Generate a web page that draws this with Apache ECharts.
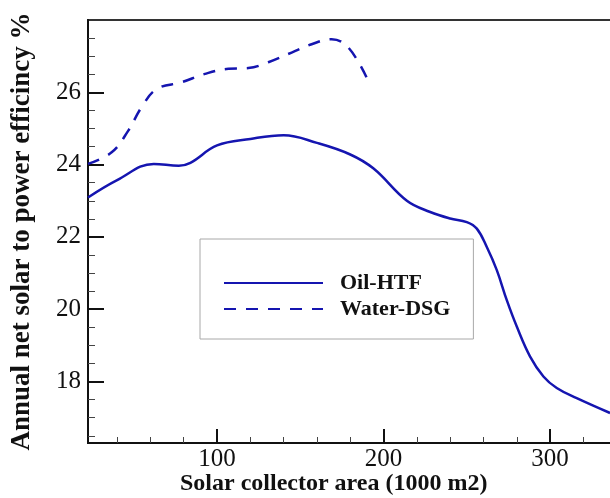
<!DOCTYPE html>
<html>
<head>
<meta charset="utf-8">
<script src="https://cdn.jsdelivr.net/npm/echarts@6/dist/echarts.min.js"></script>
<style>
  html, body { margin: 0; padding: 0; background: #fff; }
  #chart { width: 610px; height: 498px; }
</style>
</head>
<body>
<div id="chart"></div>
<script>
// collector area (1000 m2) and efficiency (%)
const oilArea = [22.5, 40, 62, 77, 84, 100, 120, 140, 160, 180, 194, 214, 228, 240, 250, 256, 262, 268, 274, 280, 288, 296, 304, 316, 336];
const oilEff = [23.09, 23.57, 24.02, 23.97, 24.05, 24.53, 24.71, 24.81, 24.6, 24.28, 23.89, 23.0, 22.69, 22.51, 22.41, 22.23, 21.72, 21.08, 20.25, 19.52, 18.69, 18.14, 17.82, 17.54, 17.13];
const dsgArea = [22.5, 36.7, 46.7, 54.7, 63.8, 78.8, 92.8, 106.8, 118.8, 130.8, 144.8, 156.8, 168.8, 178.8, 189.8];
const dsgEff = [24.02, 24.34, 24.94, 25.59, 26.09, 26.28, 26.51, 26.65, 26.67, 26.83, 27.1, 27.33, 27.47, 27.24, 26.41];

const xMajor = [100, 200, 300];
const xMinor = [40, 60, 80, 120, 140, 160, 180, 220, 240, 260, 280, 320, 340];
const yMajor = [18, 20, 22, 24, 26];
const yMinor = [16.5, 17, 17.5, 18.5, 19, 19.5, 20.5, 21, 21.5, 22.5, 23, 23.5, 24.5, 25, 25.5, 26.5, 27, 27.5];

const blue = '#1515b0';
const serif = '"Liberation Serif", "DejaVu Serif", serif';

const pairs = (xs, ys) => xs.map((x, i) => [x, ys[i]]);

const axisLine = {
  show: true,
  onZero: false,
  lineStyle: { color: '#111', width: 2 },
};

const labelStyle = {
  fontFamily: serif,
  fontSize: 25,
  color: '#111',
};

const xBase = { type: 'value', min: 22.5, max: 354, position: 'bottom', splitLine: { show: false } };
const yBase = { type: 'value', min: 16.3, max: 28, position: 'left', splitLine: { show: false } };

const option = {
  animation: false,
  backgroundColor: '#fff',
  grid: {
    left: 88,
    top: 20,
    right: -30,
    bottom: 55,
    outerBoundsMode: 'none',
    containLabel: false,
    show: true,
    borderColor: '#333',
    borderWidth: 2,
    backgroundColor: 'transparent',
  },
  legend: {
    orient: 'vertical',
    left: 200,
    top: 239,
    borderColor: '#a8a8a8',
    borderWidth: 1,
    padding: [33, 23, 19, 23],
    itemWidth: 99,
    itemHeight: 2,
    itemGap: 4,
    textStyle: {
      fontFamily: serif,
      fontSize: 22,
      fontWeight: 'bold',
      color: '#111',
      lineHeight: 22,
      padding: [0, 0, 0, 12],
    },
    data: ['Oil-HTF', 'Water-DSG'],
  },
  xAxis: [
    {
      ...xBase,
      axisLine,
      axisTick: { inside: true, length: 14, lineStyle: { color: '#111', width: 2 }, customValues: xMajor },
      axisLabel: { ...labelStyle, margin: 4, customValues: xMajor },
    },
    {
      ...xBase,
      axisLine: { show: false },
      axisTick: { inside: true, length: 6, lineStyle: { color: '#444', width: 1 }, customValues: xMinor },
      axisLabel: { show: false },
    },
  ],
  yAxis: [
    {
      ...yBase,
      axisLine,
      name: 'Annual net solar to power efficincy %',
      nameLocation: 'middle',
      nameRotate: 90,
      nameGap: 52,
      nameTextStyle: { fontFamily: serif, fontSize: 27, fontWeight: 'bold', color: '#111' },
      axisTick: { inside: true, length: 16, lineStyle: { color: '#111', width: 2 }, customValues: yMajor },
      axisLabel: { ...labelStyle, margin: 7, customValues: yMajor },
    },
    {
      ...yBase,
      axisLine: { show: false },
      axisTick: { inside: true, length: 7, lineStyle: { color: '#444', width: 1 }, customValues: yMinor },
      axisLabel: { show: false },
    },
  ],
  graphic: [
    {
      type: 'text',
      left: 180,
      top: 472,
      style: {
        text: 'Solar collector area (1000 m2)',
        font: 'bold 24px ' + serif,
        fill: '#111',
      },
    },
  ],
  series: [
    {
      name: 'Oil-HTF',
      type: 'line',
      xAxisIndex: 0,
      yAxisIndex: 0,
      smooth: 0.4,
      symbol: 'none',
      lineStyle: { color: blue, width: 2.5 },
      itemStyle: { color: blue },
      data: pairs(oilArea, oilEff),
    },
    {
      name: 'Water-DSG',
      type: 'line',
      xAxisIndex: 0,
      yAxisIndex: 0,
      smooth: 0.4,
      symbol: 'none',
      lineStyle: { color: blue, width: 2.5, type: [12, 10] },
      itemStyle: { color: blue },
      data: pairs(dsgArea, dsgEff),
    },
  ],
};

const chart = echarts.init(document.getElementById('chart'));
chart.setOption(option);
</script>
</body>
</html>
